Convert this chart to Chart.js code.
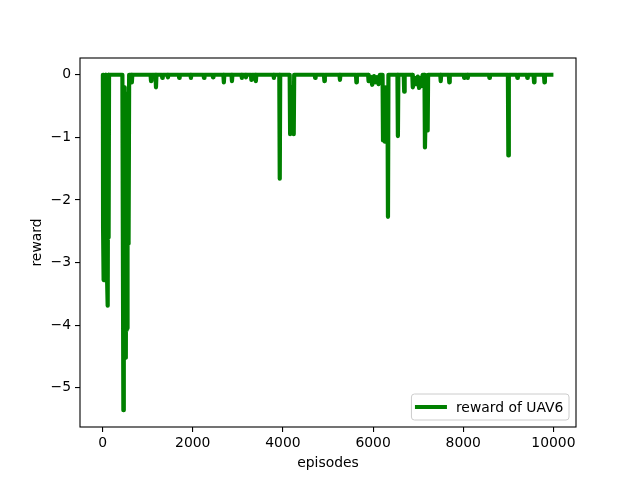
<!DOCTYPE html>
<html>
<head>
<meta charset="utf-8">
<script src="https://cdn.jsdelivr.net/npm/chart.js@4.4.0/dist/chart.umd.min.js"></script>
<style>
  html, body { margin: 0; padding: 0; background: #fff; }
  canvas { display: block; }
</style>
</head>
<body>
<canvas id="rewardChart" width="640" height="480"></canvas>
<script>
// Reward per episode (reward sits at 0 between the dips)
const episodes = [
  0, 8, 12, 18, 24, 30, 38, 46, 54, 62, 70, 78, 86, 94, 102, 110, 118, 126, 134, 144,
  440, 462, 468, 474, 480, 488, 496, 504, 512, 520, 528, 536, 544, 550, 558, 566, 574, 580, 590,
  640, 650, 660, 1065, 1075, 1085, 1175, 1185, 1195, 1315, 1325, 1335,
  1440, 1450, 1460, 1690, 1700, 1710, 1950, 1960, 1970, 2240, 2250, 2260,
  2440, 2450, 2460, 2680, 2690, 2700, 2860, 2870, 2880, 3080, 3090, 3100,
  3170, 3180, 3190, 3290, 3300, 3310, 3390, 3400, 3410, 3790, 3800, 3810,
  3920, 3930, 3940,
  4150, 4160, 4180, 4200, 4220, 4240, 4250,
  4705, 4715, 4725, 4910, 4920, 4930, 5255, 5265, 5275, 5620, 5630, 5640,
  5890, 5900, 5940, 5980, 6020, 6050, 6090, 6120, 6150,
  6210, 6220, 6240, 6260, 6280, 6300, 6320, 6330, 6340,
  6540, 6550, 6560, 6680, 6690, 6700,
  6870, 6880, 6920, 6950, 6990, 7020, 7050, 7080, 7100,
  7140, 7150, 7170, 7190, 7210, 7220,
  7490, 7500, 7510, 7680, 7690, 7700, 8010, 8020, 8030, 8090, 8100, 8110,
  8570, 8580, 8590, 8990, 9000, 9010, 9190, 9200, 9210, 9410, 9420, 9430,
  9560, 9570, 9580, 9790, 9800, 9810, 9999
];
const rewards = [
  -0.2, 0, -2.45, -0.4, -3.28, 0, -3.25, -0.2, -3.28, 0, -2.9, -0.5, -3.2, 0, -3.3, -0.3, -3.69, 0, -2.6, 0,
  0, -5.36, -0.8, -4.5, -0.2, -4.52, -1.2, -4.5, -0.4, -4.52, -0.9, -4.08, -0.3, -4.05, -1.2, -2.7, -0.3, -2.65, 0,
  0, -0.12, 0, 0, -0.1, 0, 0, -0.2, 0, 0, -0.05, 0,
  0, -0.04, 0, 0, -0.05, 0, 0, -0.05, 0, 0, -0.05, 0,
  0, -0.04, 0, 0, -0.12, 0, 0, -0.1, 0, 0, -0.05, 0,
  0, -0.04, 0, 0, -0.08, 0, 0, -0.1, 0, 0, -0.05, 0,
  0, -1.66, 0,
  0, -0.95, -0.2, -0.93, -0.3, -0.95, 0,
  0, -0.05, 0, 0, -0.1, 0, 0, -0.08, 0, 0, -0.12, 0,
  0, -0.1, -0.03, -0.16, -0.02, -0.12, -0.04, -0.15, 0,
  0, -1.05, -0.3, -1.07, -0.2, -1.0, -0.4, -2.27, 0,
  0, -0.98, 0, 0, -0.27, 0,
  0, -0.2, -0.05, -0.15, -0.03, -0.21, -0.05, -0.18, 0,
  0, -1.16, -0.4, -0.8, -0.89, 0,
  0, -0.1, 0, 0, -0.12, 0, 0, -0.05, 0, 0, -0.05, 0,
  0, -0.05, 0, 0, -1.29, 0, 0, -0.05, 0, 0, -0.05, 0,
  0, -0.12, 0, 0, -0.12, 0, 0
];
const xTicks = [0, 2000, 4000, 6000, 8000, 10000];
const yTicks = [0, -1, -2, -3, -4, -5];
const seriesLabel = 'reward of UAV6';

const FONT = '"DejaVu Sans", sans-serif';
const FONT_SIZE = 13.9;

Chart.defaults.font.family = FONT;
Chart.defaults.font.size = FONT_SIZE;
Chart.defaults.color = '#000';

// axes frame drawn on all four sides, like matplotlib spines
const frame = {
  id: 'frame',
  afterDatasetsDraw(chart) {
    const { ctx, chartArea: a } = chart;
    ctx.save();
    ctx.strokeStyle = '#000';
    ctx.lineWidth = 1.1;
    ctx.strokeRect(a.left, a.top, a.right - a.left, a.bottom - a.top);
    ctx.restore();
  }
};

// legend box sitting in the lower right corner of the axes
const cornerLegend = {
  id: 'cornerLegend',
  afterDraw(chart) {
    const { ctx, chartArea: a } = chart;
    const ds = chart.data.datasets[0];
    ctx.save();
    ctx.font = FONT_SIZE + 'px ' + FONT;
    const textW = ctx.measureText(ds.label).width;
    const pad = 5.6, handle = 27.8, gap = 11.1;
    const w = pad * 2 + handle + gap + textW;
    const h = 26;
    const right = a.right - 7, bottom = a.bottom - 7;
    const left = right - w, top = bottom - h;
    ctx.beginPath();
    ctx.roundRect(left, top, w, h, 3);
    ctx.fillStyle = 'rgba(255,255,255,0.8)';
    ctx.fill();
    ctx.strokeStyle = '#cccccc';
    ctx.lineWidth = 1;
    ctx.stroke();
    const midY = top + h / 2;
    ctx.beginPath();
    ctx.moveTo(left + pad, midY);
    ctx.lineTo(left + pad + handle, midY);
    ctx.strokeStyle = ds.borderColor;
    ctx.lineWidth = ds.borderWidth;
    ctx.lineCap = 'square';
    ctx.stroke();
    ctx.fillStyle = '#000';
    ctx.textBaseline = 'middle';
    ctx.fillText(ds.label, left + pad + handle + gap, midY + 1);
    ctx.restore();
  }
};

const minus = v => String(v).replace('-', '\u2212');

new Chart(document.getElementById('rewardChart'), {
  type: 'line',
  data: {
    datasets: [{
      label: seriesLabel,
      data: episodes.map((e, i) => ({ x: e, y: rewards[i] })),
      borderColor: '#008000',
      backgroundColor: '#008000',
      borderWidth: 4.2,
      borderJoinStyle: 'round',
      pointRadius: 0,
      tension: 0,
      fill: false
    }]
  },
  options: {
    responsive: false,
    animation: false,
    layout: { padding: { top: 58, right: 64, left: 0, bottom: 0 } },
    plugins: {
      legend: { display: false },
      tooltip: { enabled: false }
    },
    scales: {
      x: {
        type: 'linear',
        min: -500,
        max: 10500,
        afterBuildTicks: s => { s.ticks = xTicks.map(v => ({ value: v })); },
        afterFit: s => { s.height = 53; },
        ticks: { padding: 3, maxRotation: 0, autoSkip: false, callback: v => minus(v) },
        grid: { drawOnChartArea: false, drawTicks: true, tickLength: 5, color: '#000', lineWidth: 1.1 },
        border: { display: false },
        title: { display: true, text: 'episodes', padding: { top: 0, bottom: 8 } }
      },
      y: {
        type: 'linear',
        min: -5.628,
        max: 0.268,
        afterBuildTicks: s => { s.ticks = yTicks.map(v => ({ value: v })); },
        afterFit: s => { s.width = 80; },
        ticks: { padding: 4, autoSkip: false, callback: v => minus(v) },
        grid: { drawOnChartArea: false, drawTicks: true, tickLength: 5, color: '#000', lineWidth: 1.1 },
        border: { display: false },
        title: { display: true, text: 'reward', padding: { top: 29, bottom: 0 } }
      }
    }
  },
  plugins: [frame, cornerLegend]
});
</script>
</body>
</html>
